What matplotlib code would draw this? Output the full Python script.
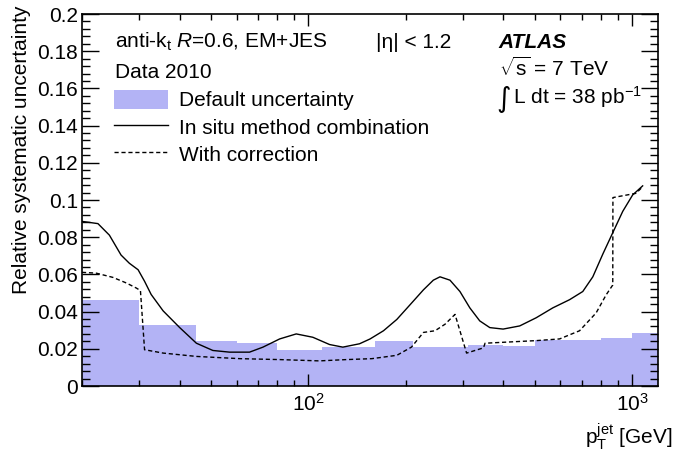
import numpy as np
import matplotlib
matplotlib.use("Agg")
import matplotlib.pyplot as plt
from matplotlib.ticker import FixedLocator, MultipleLocator, FuncFormatter, NullFormatter
from matplotlib.patches import Patch
from matplotlib.lines import Line2D

plt.rcParams['font.family'] = ['Liberation Sans', 'DejaVu Sans']
plt.rcParams['mathtext.fontset'] = 'custom'
plt.rcParams['mathtext.rm'] = 'Liberation Sans'
plt.rcParams['mathtext.it'] = 'Liberation Sans:italic'
plt.rcParams['mathtext.bf'] = 'Liberation Sans:bold'

########
# Data #
########
bin_edges = [20, 30, 45, 60, 80, 110, 160, 210, 260, 310, 400, 500, 600, 800, 1000, 1200]
default_unc = [0.0462, 0.0329, 0.0241, 0.0232, 0.0191, 0.0207, 0.0243, 0.0209, 0.0212, 0.0218,
               0.0215, 0.0245, 0.0249, 0.026, 0.0287]

insitu_pt = [20, 22.4, 24.3, 26.4, 28.0, 29.8, 31.2, 32.7, 35.6, 40.0, 45.1, 50.7, 57.1,
             65.8, 72.4, 81.5, 91.7, 103.2, 116.2, 127.7, 143.8, 155, 170.5, 187.5, 206,
             226.5, 243, 254.8, 273.5, 293.6, 315, 338, 363, 399, 449, 505, 568, 640, 703,
             755, 811, 870, 934, 1002, 1076]
insitu_unc = [0.0885, 0.0873, 0.0811, 0.0704, 0.066, 0.0625, 0.0563, 0.0492, 0.0404, 0.0315,
              0.023, 0.0191, 0.0182, 0.0182, 0.0209, 0.0253, 0.028, 0.0262, 0.0223, 0.0209,
              0.0227, 0.0253, 0.0297, 0.0358, 0.0437, 0.0517, 0.0569, 0.0587, 0.0569, 0.0508,
              0.042, 0.035, 0.0314, 0.0306, 0.0323, 0.0367, 0.042, 0.0464, 0.0508, 0.0587,
              0.071, 0.0824, 0.0939, 0.1027, 0.1076]

corr_pt = [20, 22.1, 24.9, 27.4, 29.4, 30.3, 31.2, 35.6, 45.1, 61.4, 81.5, 108, 131, 157,
           187.5, 208, 226.5, 246, 264, 283.5, 307.8, 347, 351, 399, 505, 596, 687, 773, 830,
           870, 871, 1026, 1076]
corr_unc = [0.0611, 0.0607, 0.0584, 0.0554, 0.0527, 0.0513, 0.0195, 0.0177, 0.0159, 0.0147,
            0.0142, 0.0135, 0.0142, 0.0147, 0.0165, 0.0209, 0.0288, 0.0297, 0.0332, 0.0385,
            0.0177, 0.0205, 0.023, 0.0235, 0.0244, 0.0253, 0.0297, 0.0393, 0.049, 0.0543,
            0.1013, 0.1036, 0.1071]

#########
# Plot  #
#########
fig = plt.figure(figsize=(6.8, 4.55), dpi=100)
ax = fig.add_axes([82 / 680, 1 - 386 / 455, 576 / 680, 372 / 455])

fill_col = '#b3b3f5'
ax.stairs(default_unc, bin_edges, fill=True, color=fill_col, lw=0)
ax.plot(insitu_pt, insitu_unc, color='black', lw=1.0)
ax.plot(corr_pt, corr_unc, color='black', lw=1.0, linestyle=(0, (3, 2)))

ax.set_xscale('log')
ax.set_xlim(20, 1200)
ax.set_ylim(0, 0.2)

ax.xaxis.set_major_locator(FixedLocator([100, 1000]))
ax.xaxis.set_major_formatter(FuncFormatter(lambda v, p: r'$10^{%d}$' % round(np.log10(v))))
ax.xaxis.set_minor_locator(FixedLocator([20, 30, 40, 50, 60, 70, 80, 90,
                                         200, 300, 400, 500, 600, 700, 800, 900]))
ax.xaxis.set_minor_formatter(NullFormatter())
ax.yaxis.set_major_locator(MultipleLocator(0.02))
ax.yaxis.set_minor_locator(MultipleLocator(0.004))
ax.yaxis.set_major_formatter(FuncFormatter(lambda v, p: '%g' % round(v, 3)))

ax.tick_params(which='both', direction='in', top=True, right=True, labelsize=15, width=1)
ax.tick_params(axis='y', which='major', length=12, pad=3)
ax.tick_params(axis='y', which='minor', length=6)
ax.tick_params(axis='x', which='major', length=8.5, pad=5)
ax.tick_params(axis='x', which='minor', length=4.3)
for s in ax.spines.values():
    s.set_linewidth(1.2)

def px(x, y):
    return (x / 680, 1 - y / 455)

fig.text(*px(22, 6), 'Relative systematic uncertainty', rotation=90,
         ha='center', va='top', fontsize=15)
fig.text(*px(672, 437), r'$\mathrm{p}_{\mathrm{T}}^{\mathrm{jet}}$ [GeV]',
         ha='right', va='center', fontsize=15)

# annotations
fig.text(*px(115, 42), r'anti-k$_{\mathrm{t}}$ $\mathit{R}$=0.6, EM+JES', fontsize=15, va='center')
fig.text(*px(115, 72), 'Data 2010', fontsize=15, va='center')
fig.text(*px(376, 42), '|η| < 1.2', fontsize=15, va='center')
fig.text(*px(498, 42), 'ATLAS', fontsize=15, va='center', fontweight='bold', fontstyle='italic')
fig.text(*px(499, 68), r'$\sqrt{\mathrm{s}}$ = 7 TeV', fontsize=15, va='center')
fig.text(*px(496, 99), '∫', fontsize=20, va='center', family='DejaVu Sans')
fig.text(*px(513, 97), r'L dt = 38 pb$^{-1}$', fontsize=15, va='center')

handles = [Patch(facecolor=fill_col, edgecolor='none'),
           Line2D([], [], color='black', lw=1.0),
           Line2D([], [], color='black', lw=1.0, linestyle=(0, (3, 2)))]
labels = ['Default uncertainty', 'In situ method combination', 'With correction']
ax.legend(handles, labels, loc='upper left', bbox_to_anchor=px(114, 90),
          bbox_transform=fig.transFigure, frameon=False, fontsize=15,
          handlelength=2.6, handleheight=1.0, handletextpad=0.5, labelspacing=0.32,
          borderaxespad=0, borderpad=0)

fig.savefig('out.png', dpi=100)
